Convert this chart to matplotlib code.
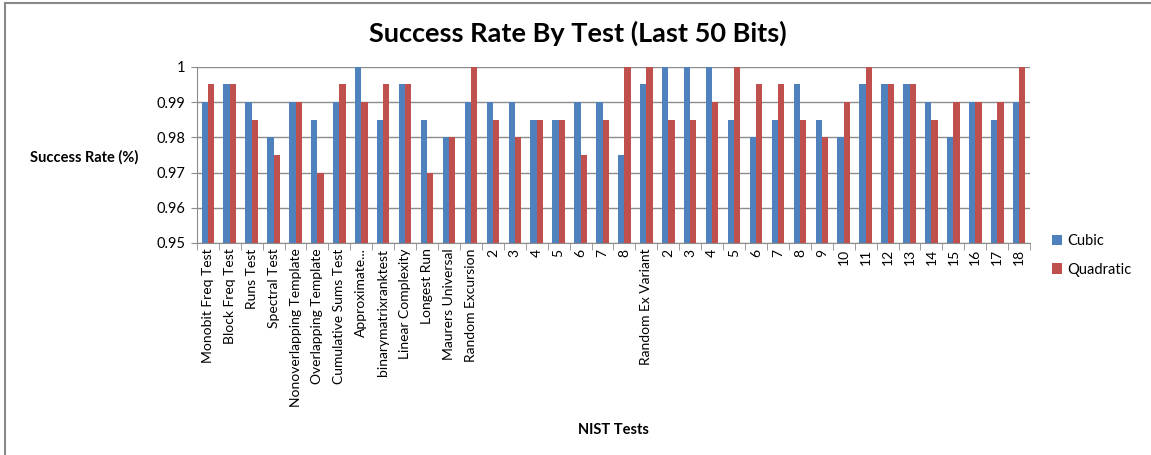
import numpy as np
import matplotlib.pyplot as plt
from matplotlib.lines import Line2D

plt.rcParams['font.family'] = ['Lato', 'DejaVu Sans']

# Data
tests = ['Monobit Freq Test', 'Block Freq Test', 'Runs Test', 'Spectral Test',
         'Nonoverlapping Template', 'Overlapping Template', 'Cumulative Sums Test',
         'Approximate...', 'binarymatrixranktest', 'Linear Complexity', 'Longest Run',
         'Maurers Universal', 'Random Excursion', '2', '3', '4', '5', '6', '7', '8',
         'Random Ex Variant', '2', '3', '4', '5', '6', '7', '8', '9', '10', '11',
         '12', '13', '14', '15', '16', '17', '18']
cubic = [0.99, 0.995, 0.99, 0.98, 0.99, 0.985, 0.99, 1.0, 0.985, 0.995, 0.985,
         0.98, 0.99, 0.99, 0.99, 0.985, 0.985, 0.99, 0.99, 0.975,
         0.995, 1.0, 1.0, 1.0, 0.985, 0.98, 0.985, 0.995, 0.985, 0.98, 0.995,
         0.995, 0.995, 0.99, 0.98, 0.99, 0.985, 0.99]
quadratic = [0.995, 0.995, 0.985, 0.975, 0.99, 0.97, 0.995, 0.99, 0.995, 0.995, 0.97,
             0.98, 1.0, 0.985, 0.98, 0.985, 0.985, 0.975, 0.985, 1.0,
             1.0, 0.985, 0.985, 0.99, 1.0, 0.995, 0.995, 0.985, 0.98, 0.99, 1.0,
             0.995, 0.995, 0.985, 0.99, 0.99, 0.99, 1.0]

blue = '#4F81BD'
red = '#C0504D'
grid = '#8C8C8C'

fig = plt.figure(figsize=(11.51, 4.55), dpi=100)
ax = fig.add_axes([0.171, 0.466, 0.724, 0.387])

x = np.arange(len(tests))
w = 0.285
ax.bar(x - w / 2, cubic, w, color=blue, label='Cubic', zorder=3)
ax.bar(x + w / 2, quadratic, w, color=red, label='Quadratic', zorder=3)

ax.set_ylim(0.95, 1.0)
ax.set_xlim(-0.5, len(tests) - 0.5)
ax.set_yticks([0.95, 0.96, 0.97, 0.98, 0.99, 1.0])
ax.set_yticklabels(['0.95', '0.96', '0.97', '0.98', '0.99', '1'], fontsize=10.5)
ax.yaxis.grid(True, color=grid, linewidth=1, zorder=0)
ax.tick_params(axis='y', length=4, color=grid, pad=4)

# category labels, with tick marks between categories like Excel
ax.set_xticks(x)
ax.set_xticklabels(tests, rotation=90, fontsize=10)
ax.tick_params(axis='x', length=0, pad=4)
ax.set_xticks(np.arange(-0.5, len(tests)), minor=True)
ax.tick_params(axis='x', which='minor', length=5, color=grid)

for s in ['top', 'right']:
    ax.spines[s].set_visible(False)
ax.spines['left'].set_color(grid)
ax.spines['bottom'].set_color(grid)

fig.text(0.502, 0.927, 'Success Rate By Test (Last 50 Bits)', ha='center', va='center',
         fontsize=19.5, fontweight='bold')
fig.text(0.073, 0.655, 'Success Rate (%)', ha='center', va='center',
         fontsize=10.5, fontweight='bold')
fig.text(0.533, 0.055, 'NIST Tests', ha='center', va='center',
         fontsize=10.5, fontweight='bold')

ax.legend(loc='center left', bbox_to_anchor=(1.01, -0.07), frameon=False,
          fontsize=10.5, handlelength=0.7, handleheight=0.7, labelspacing=1.0,
          handletextpad=0.4)

# chart border (left and top visible in the screenshot)
fig.add_artist(Line2D([0.004, 0.004], [0, 0.994], color='#888888', lw=1.5))
fig.add_artist(Line2D([0.004, 1.0], [0.994, 0.994], color='#888888', lw=1.5))

fig.savefig('out.png', dpi=100)
